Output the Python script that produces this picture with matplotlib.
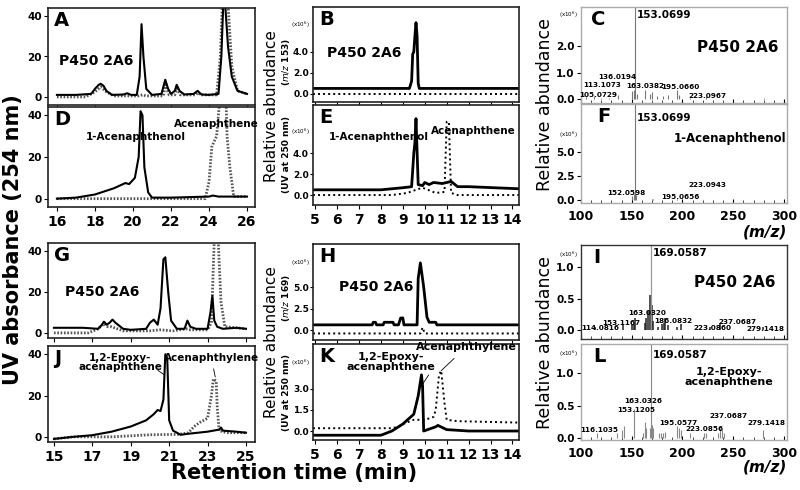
import matplotlib.pyplot as plt
import numpy as np

# ---- chromatograms, left column (UV 254 nm) ----
a_solid_x = [16.0, 17.0, 17.8, 18.0, 18.2, 18.3, 18.45, 18.6, 18.9, 19.5, 19.7, 19.9, 20.2, 20.35, 20.45, 20.55, 20.7,
             21.0, 21.5, 21.7, 21.85, 22.0, 22.2, 22.3, 22.45, 22.7, 23.2, 23.4, 23.6, 24.0, 24.5, 24.65, 24.75, 24.85,
             25.0, 25.2, 25.5, 26.0]
a_solid_y = [1, 1, 1.5, 4, 6, 6.5, 5.5, 3, 1, 1.2, 1.8, 1, 1, 10, 36, 20, 4, 1, 1.5, 8.5, 4, 1.5, 3, 6, 3, 1.2, 1.5, 3,
             1.2, 1, 1.5, 20, 46, 46, 25, 10, 3, 1.5]
a_dot_x = [16.0, 17.5, 18.0, 18.3, 18.6, 19.0, 20.3, 20.5, 20.7, 21.6, 21.7, 21.9, 22.2, 22.3, 22.5, 23.3, 23.4, 23.6,
           24.4, 24.6, 24.7, 24.8, 25.0, 25.2, 25.5, 26.0]
a_dot_y = [0, 0, 2.5, 5, 2.5, 0.5, 0.5, 1, 0.5, 0.5, 6, 1, 1, 4, 1, 1, 2, 1, 1, 20, 46, 46, 46, 15, 3, 1.5]

d_solid_x = [16.0, 17.0, 18.0, 19.0, 19.6, 19.8, 20.1, 20.3, 20.4, 20.5, 20.6, 20.8, 21.0, 22.0, 24.0, 24.2, 24.5, 26.0]
d_solid_y = [0, 0.5, 2, 5, 7.5, 7, 10, 20, 42, 40, 15, 3, 0.5, 0.5, 1, 1.5, 1, 1]
d_dot_x = [16.0, 23.8, 24.0, 24.15, 24.4, 24.55, 24.9, 24.95, 25.1, 25.3, 26.0]
d_dot_y = [0, 0, 8, 25, 30, 46, 46, 30, 15, 1, 1]

g_solid_x = [15.0, 16.5, 17.3, 17.5, 17.6, 17.75, 17.9, 18.05, 18.2, 18.6, 19.0, 19.8, 20.0, 20.2, 20.4, 20.55, 20.7,
             20.8, 20.95, 21.1, 21.4, 21.8, 21.95, 22.1, 22.4, 23.0, 23.15, 23.25, 23.35, 23.5, 23.8, 24.5, 25.0]
g_solid_y = [2.5, 2.5, 2, 4, 5.5, 4, 5, 6.5, 5, 2, 1.5, 2, 5, 6.5, 4, 12, 36, 37, 20, 6, 2, 2, 6, 3, 2, 2, 10, 18, 6, 3,
             2, 2.5, 2]
g_dot_x = [15.0, 16.8, 17.3, 17.6, 17.8, 18.0, 18.6, 20.0, 20.5, 21.2, 21.9, 22.1, 23.0, 23.2, 23.35, 23.55, 23.7, 23.9,
           24.5, 25.0]
g_dot_y = [0, 0, 2, 4.5, 3, 3, 1, 1, 1.5, 1, 2, 1.5, 1.5, 5, 46, 46, 15, 3, 2.5, 2]

j_solid_x = [15.0, 15.5, 16.0, 17.0, 18.0, 19.0, 19.8, 20.2, 20.4, 20.55, 20.7, 20.8, 20.9, 21.0, 21.2, 21.6, 22.0, 23.0,
             23.6, 23.7, 23.8, 24.5, 25.0]
j_solid_y = [-1, -0.5, 0, 0.8, 2.5, 5, 8, 11, 13, 12.5, 18, 40, 38, 8, 3, 1, 1.5, 2.5, 3.5, 4.5, 3, 2.5, 2]
j_dot_x = [15.0, 16.0, 18.0, 20.0, 21.5, 22.0, 22.3, 22.6, 23.0, 23.2, 23.3, 23.45, 23.5, 23.6, 24.0, 25.0]
j_dot_y = [-1, 0, 0, 1, 1.2, 2, 5, 7, 9, 20, 28, 27, 15, 3, 2, 2]

# ---- chromatograms, middle column (LC-MS) ----
b_solid_x = [4.9, 9.3, 9.4, 9.45, 9.5, 9.55, 9.6, 9.65, 9.7, 9.75, 14.3]
b_solid_y = [0.5, 0.5, 1.2, 3.8, 4.0, 5.5, 6.8, 5.5, 1.0, 0.5, 0.5]
b_dot_x = [4.9, 14.3]
b_dot_y = [0.0, 0.0]

e_solid_x = [4.9, 8.0, 9.0, 9.4, 9.5, 9.55, 9.6, 9.7, 9.9, 10.0, 10.2, 10.4, 10.8, 11.0, 11.2, 11.5, 12.0, 14.3]
e_solid_y = [0.5, 0.5, 0.7, 0.8, 4.0, 5.0, 7.3, 1.0, 0.9, 1.2, 1.0, 1.2, 1.1, 1.2, 1.3, 0.8, 0.8, 0.6]
e_dot_x = [4.9, 8.5, 9.2, 9.6, 9.9, 10.5, 10.9, 11.0, 11.1, 11.2, 11.5, 14.3]
e_dot_y = [0, 0, 0.2, 0.5, 0.7, 0.2, 0.3, 7.0, 7.0, 0.2, 0.0, 0.0]

h_solid_x = [4.9, 7.6, 7.65, 7.75, 7.8, 8.1, 8.15, 8.55, 8.6, 8.8, 8.9, 9.0, 9.05, 9.65, 9.7, 9.8, 9.95, 10.1, 10.2,
             10.5, 10.55, 14.3]
h_solid_y = [0.6, 0.6, 0.9, 0.9, 0.6, 0.6, 0.9, 0.9, 0.6, 0.6, 1.4, 1.4, 0.6, 0.6, 6.0, 7.8, 5.0, 1.5, 0.9, 0.9, 0.6,
             0.6]
h_dot_x = [4.9, 9.8, 9.9, 10.0, 14.3]
h_dot_y = [-0.4, -0.4, 0.3, -0.4, -0.4]

k_solid_x = [4.9, 8.0, 8.5, 9.0, 9.5, 9.7, 9.75, 9.85, 9.9, 9.95, 10.5, 10.6, 11.0, 12.0, 14.3]
k_solid_y = [-0.3, -0.3, 0.0, 0.5, 1.2, 2.5, 3.0, 4.0, 3.2, 0.0, 0.3, 0.4, 0.1, 0.0, 0.0]
k_dot_x = [4.9, 8.5, 8.8, 9.0, 9.5, 10.0, 10.4, 10.5, 10.65, 10.75, 10.9, 11.0, 11.5, 14.3]
k_dot_y = [0.2, 0.2, 0.3, 0.5, 0.8, 0.8, 1.0, 1.5, 4.0, 4.3, 2.0, 0.8, 0.7, 0.6]

# ---- mass spectra, right column ----
c_mz = [105, 113, 120, 128, 136, 150, 152, 153, 155, 163, 168, 170, 175, 181, 186, 195, 197, 207, 223, 280]
c_int = [0.08, 0.1, 0.05, 0.05, 0.15, 0.3, 0.35, 3.6, 0.2, 0.35, 0.2, 0.25, 0.1, 0.1, 0.15, 0.35, 0.15, 0.05, 0.1, 0.05]
c_labels = ['105.0729', '113.1073', '136.0194', '163.0382', '195.0660', '223.0967']
c_lab_x = [117, 121, 135.5, 163.5, 197.5, 225]
c_lab_y = [0.15, 0.55, 0.82, 0.5, 0.45, 0.1]

f_mz = [150, 152, 153, 154, 170, 171, 181, 195, 199]
f_int = [0.4, 0.6, 10.5, 0.5, 0.15, 0.1, 0.05, 0.1, 0.05]
f_labels = ['152.0598', '195.0656', '223.0943']
f_lab_x = [145, 198, 225]
f_lab_y = [0.7, 0.35, 1.6]

i_mz = [114, 141, 150, 152, 153, 163, 164, 166, 168, 170, 171, 176, 180, 182, 183, 186, 195, 199, 227, 237, 279]
i_int = [0.05, 0.08, 0.1, 0.1, 0.2, 0.12, 0.2, 0.3, 0.55, 0.4, 0.15, 0.05, 0.1, 0.12, 0.2, 0.08, 0.05, 0.1, 0.05, 0.12,
         0.05]
i_base_mz = 169
i_labels = ['114.0816', '153.1167', '163.0320', '186.0832', '223.0860', '237.0687', '279.1418']
i_lab_x = [118.5, 140, 165, 191, 230, 254, 282]
i_lab_y = [0.03, 0.11, 0.27, 0.14, 0.04, 0.13, 0.02]

l_mz = [116, 135, 140, 142, 152, 161, 163, 164, 168, 169, 170, 171, 177, 179, 181, 183, 195, 197, 199, 207, 221, 223,
        235, 237, 239, 241, 279]
l_int = [0.08, 0.08, 0.12, 0.18, 0.45, 0.08, 0.25, 0.15, 0.15, 1.6, 0.2, 0.15, 0.08, 0.08, 0.08, 0.1, 0.18, 0.15, 0.12,
         0.08, 0.08, 0.08, 0.08, 0.15, 0.12, 0.08, 0.12]
l_labels = ['116.1035', '153.1205', '163.0326', '195.0577', '223.0856', '237.0687', '279.1418']
l_lab_x = [118, 154, 161, 196, 222, 245, 283]
l_lab_y = [0.12, 0.44, 0.57, 0.23, 0.14, 0.34, 0.23]


fig = plt.figure(figsize=(8, 4.9), dpi=100)
W, H = 800.0, 490.0


def add_ax(x0, x1, y0, y1):
    return fig.add_axes([x0 / W, 1 - y1 / H, (x1 - x0) / W, (y1 - y0) / H])


def style(ax, frame='#222222', lw=1.2, size=7.5):
    for s in ax.spines.values():
        s.set_color(frame)
        s.set_linewidth(lw)
    ax.tick_params(direction='out', length=3, width=0.8, labelsize=size, pad=1.5)
    for t in ax.get_xticklabels() + ax.get_yticklabels():
        t.set_fontweight('bold')


def letter(ax, s, x=0.03, y=0.97):
    ax.text(x, y, s, transform=ax.transAxes, fontsize=14, fontweight='bold', va='top', ha='left')


def scale_note(ax, y):
    ax.text(-0.015, y, '(x10$^6$)', transform=ax.transAxes, fontsize=4, ha='right', va='center')


solid_kw = dict(color='black', lw=1.5)
dot_kw = dict(color='#555555', lw=2.0, linestyle=(0, (0.6, 0.6)))

# left column
ax_a = add_ax(48, 255, 8, 105)
ax_d = add_ax(48, 255, 107, 207)
ax_g = add_ax(48, 255, 243, 338)
ax_j = add_ax(48, 255, 346, 442)

for ax, sx, sy, dx, dy in [(ax_a, a_solid_x, a_solid_y, a_dot_x, a_dot_y),
                           (ax_d, d_solid_x, d_solid_y, d_dot_x, d_dot_y)]:
    ax.plot(dx, dy, **dot_kw)
    ax.plot(sx, sy, **solid_kw)
    ax.set_xlim(15.53, 26.42)
    ax.set_ylim(-4, 44)
    ax.set_xticks(np.arange(16, 27, 2))
    ax.set_yticks([0, 20, 40])

for ax, sx, sy, dx, dy in [(ax_g, g_solid_x, g_solid_y, g_dot_x, g_dot_y),
                           (ax_j, j_solid_x, j_solid_y, j_dot_x, j_dot_y)]:
    ax.plot(dx, dy, **dot_kw)
    ax.plot(sx, sy, **solid_kw)
    ax.set_xlim(14.69, 25.47)
    ax.set_ylim(-2.5, 44)
    ax.set_xticks(np.arange(15, 26, 2))
    ax.set_yticks([0, 20, 40])

for ax in [ax_a, ax_d, ax_g, ax_j]:
    style(ax, size=7.5)
ax_a.set_xticklabels([])
ax_g.set_xticklabels([])
for ax in [ax_d, ax_j]:
    ax.tick_params(axis='x', labelsize=10, pad=3)

letter(ax_a, 'A')
letter(ax_d, 'D')
letter(ax_g, 'G')
letter(ax_j, 'J')
ax_a.text(18.05, 18, 'P450 2A6', fontsize=10, fontweight='bold', ha='center', va='center')
ax_g.text(17.5, 20, 'P450 2A6', fontsize=10, fontweight='bold', ha='center', va='center')
ax_d.text(20.15, 29.5, '1-Acenaphthenol', fontsize=7.5, fontweight='bold', ha='center', va='center')
ax_d.text(24.4, 36, 'Acenaphthene', fontsize=7.5, fontweight='bold', ha='center', va='center')
ax_j.annotate('1,2-Epoxy-\nacenaphthene', xy=(20.75, 30), xytext=(18.45, 36), fontsize=7.5, fontweight='bold',
              ha='center', va='center', linespacing=0.95,
              arrowprops=dict(arrowstyle='-', color='black', lw=0.6, shrinkA=0, shrinkB=0,
                              relpos=(0.95, 0.1)))
ax_j.annotate('Acenaphthylene', xy=(23.4, 29), xytext=(23.2, 38), fontsize=7.5, fontweight='bold',
              ha='center', va='center',
              arrowprops=dict(arrowstyle='-', color='black', lw=0.6, shrinkA=2, shrinkB=0))

# middle column
ax_b = add_ax(313, 519, 7, 102)
ax_e = add_ax(313, 519, 105, 205)
ax_h = add_ax(313, 519, 244, 340)
ax_k = add_ax(313, 519, 344, 440)

mid_solid = dict(color='black', lw=2.0)
mid_dot = dict(color='black', lw=1.4, linestyle=(0, (1, 1.6)))
for ax, sx, sy, dx, dy in [(ax_b, b_solid_x, b_solid_y, b_dot_x, b_dot_y),
                           (ax_e, e_solid_x, e_solid_y, e_dot_x, e_dot_y),
                           (ax_h, h_solid_x, h_solid_y, h_dot_x, h_dot_y),
                           (ax_k, k_solid_x, k_solid_y, k_dot_x, k_dot_y)]:
    ax.plot(dx, dy, **mid_dot)
    ax.plot(sx, sy, **mid_solid)
    ax.set_xlim(4.9, 14.3)
    ax.set_xticks(np.arange(5, 15, 1))

ax_b.set_ylim(-0.8, 8.3)
ax_b.set_yticks([0, 2, 4])
ax_b.set_yticklabels(['0.0', '2.0', '4.0'])
ax_e.set_ylim(-0.95, 8.6)
ax_e.set_yticks([0, 2, 4])
ax_e.set_yticklabels(['0.0', '2.0', '4.0'])
ax_h.set_ylim(-1.16, 10.0)
ax_h.set_yticks([0, 2.5, 5.0])
ax_h.set_yticklabels(['0.0', '2.5', '5.0'])
ax_k.set_ylim(-0.64, 6.2)
ax_k.set_yticks([0, 1.5, 3.0])
ax_k.set_yticklabels(['0.0', '1.5', '3.0'])

for ax in [ax_b, ax_e, ax_h, ax_k]:
    style(ax, size=6.5)
    ax.tick_params(axis='y', length=2, pad=1)
ax_b.set_xticklabels([])
ax_h.set_xticklabels([])
for ax in [ax_e, ax_k]:
    ax.tick_params(axis='x', labelsize=10, pad=3)

letter(ax_b, 'B')
letter(ax_e, 'E')
letter(ax_h, 'H')
letter(ax_k, 'K')
scale_note(ax_b, 0.81)
scale_note(ax_e, 0.73)
scale_note(ax_h, 0.80)
scale_note(ax_k, 0.80)
ax_b.text(7.25, 3.9, 'P450 2A6', fontsize=10, fontweight='bold', ha='center', va='center')
ax_h.text(7.8, 5.0, 'P450 2A6', fontsize=10, fontweight='bold', ha='center', va='center')
ax_e.text(7.9, 5.5, '1-Acenaphthenol', fontsize=7.5, fontweight='bold', ha='center', va='center')
ax_e.text(12.2, 6.1, 'Acenaphthene', fontsize=7.5, fontweight='bold', ha='center', va='center')
ax_k.annotate('1,2-Epoxy-\nacenaphthene', xy=(9.8, 3.1), xytext=(8.45, 4.9), fontsize=8, fontweight='bold',
              ha='center', va='center', linespacing=0.95,
              arrowprops=dict(arrowstyle='-', color='black', lw=0.6, shrinkA=0, shrinkB=0,
                              relpos=(0.97, 0.15)))
ax_k.annotate('Acenaphthylene', xy=(10.75, 4.3), xytext=(11.9, 6.0), fontsize=8, fontweight='bold',
              ha='center', va='center',
              arrowprops=dict(arrowstyle='-', color='black', lw=0.6, shrinkA=4, shrinkB=0))

# right column
ax_c = add_ax(581, 787, 7, 103)
ax_f = add_ax(581, 787, 104, 203)
ax_i = add_ax(581, 787, 245, 339)
ax_l = add_ax(581, 787, 344, 440)

ax_c.vlines(c_mz, 0, c_int, color='#777777', lw=0.8)
ax_f.vlines(f_mz, 0, f_int, color='#777777', lw=0.8)
ax_i.vlines(i_mz, 0, i_int, color='#222222', lw=1.1)
ax_i.vlines([i_base_mz], 0, [1.5], color='#999999', lw=0.9)
ax_l.vlines(l_mz, 0, l_int, color='#888888', lw=0.8)

ax_c.set_ylim(-0.15, 3.5)
ax_c.set_yticks([0, 1, 2])
ax_c.set_yticklabels(['0.0', '1.0', '2.0'])
ax_f.set_ylim(-0.3, 10.0)
ax_f.set_yticks([0, 2.5, 5.0])
ax_f.set_yticklabels(['0.0', '2.5', '5.0'])
ax_i.set_ylim(-0.14, 1.35)
ax_i.set_yticks([0, 0.5, 1.0])
ax_i.set_yticklabels(['0.0', '0.5', '1.0'])
ax_l.set_ylim(-0.03, 1.45)
ax_l.set_yticks([0, 0.5, 1.0])
ax_l.set_yticklabels(['0.0', '0.5', '1.0'])

for ax, fc in [(ax_c, '#aaaaaa'), (ax_f, '#aaaaaa'), (ax_i, '#333333'), (ax_l, '#aaaaaa')]:
    ax.set_xlim(100, 303)
    ax.set_xticks(np.arange(100, 301, 50))
    ax.set_xticks(np.arange(100, 301, 10), minor=True)
    style(ax, frame=fc, lw=1.0, size=7.5)
    ax.tick_params(axis='x', which='minor', direction='in', length=2, width=0.5)
    ax.tick_params(axis='x', which='major', direction='in', length=3)
ax_c.set_xticklabels([])
ax_i.set_xticklabels([])
for ax in [ax_f, ax_l]:
    ax.tick_params(axis='x', labelsize=9, pad=5)

letter(ax_c, 'C', x=0.05)
letter(ax_f, 'F', x=0.08)
letter(ax_i, 'I', x=0.06)
letter(ax_l, 'L', x=0.06)
scale_note(ax_c, 0.92)
scale_note(ax_f, 0.69)
scale_note(ax_i, 0.89)
scale_note(ax_l, 0.90)

ax_c.text(155, 3.2, '153.0699', fontsize=7.5, fontweight='bold', va='center', ha='left')
ax_f.text(155, 8.5, '153.0699', fontsize=7.5, fontweight='bold', va='center', ha='left')
ax_i.text(171, 1.22, '169.0587', fontsize=7.5, fontweight='bold', va='center', ha='left')
ax_l.text(171, 1.28, '169.0587', fontsize=7.5, fontweight='bold', va='center', ha='left')
ax_c.text(254, 1.95, 'P450 2A6', fontsize=11, fontweight='bold', ha='center', va='center')
ax_i.text(252, 0.76, 'P450 2A6', fontsize=11, fontweight='bold', ha='center', va='center')
ax_f.text(247, 6.4, '1-Acenaphthenol', fontsize=8.5, fontweight='bold', ha='center', va='center')
ax_l.text(246, 0.94, '1,2-Epoxy-\nacenaphthene', fontsize=8, fontweight='bold', ha='center', va='center',
          linespacing=0.95)

for ax, labs, lx, ly in [(ax_c, c_labels, c_lab_x, c_lab_y), (ax_f, f_labels, f_lab_x, f_lab_y),
                         (ax_i, i_labels, i_lab_x, i_lab_y), (ax_l, l_labels, l_lab_x, l_lab_y)]:
    for s, x, y in zip(labs, lx, ly):
        ax.text(x, y, s, fontsize=5.2, fontweight='bold', ha='center', va='center')

# axis titles
fig.text(0.016, 0.51, 'UV absorbance (254 nm)', rotation=90, fontsize=15, fontweight='bold', ha='center',
         va='center')
fig.text(0.367, 0.035, 'Retention time (min)', fontsize=15, fontweight='bold', ha='center', va='center')
fig.text(0.339, 0.784, 'Relative abundance', rotation=90, fontsize=11, ha='center', va='center')
fig.text(0.339, 0.302, 'Relative abundance', rotation=90, fontsize=11, ha='center', va='center')
fig.text(0.358, 0.874, '($\\it{m/z}$ 153)', rotation=90, fontsize=6.5, fontweight='bold', ha='center', va='center')
fig.text(0.358, 0.684, '(UV at 250 nm)', rotation=90, fontsize=6.5, fontweight='bold', ha='center', va='center')
fig.text(0.358, 0.392, '($\\it{m/z}$ 169)', rotation=90, fontsize=6.5, fontweight='bold', ha='center', va='center')
fig.text(0.358, 0.200, '(UV at 250 nm)', rotation=90, fontsize=6.5, fontweight='bold', ha='center', va='center')
fig.text(0.681, 0.786, 'Relative abundance', rotation=90, fontsize=12.5, ha='center', va='center')
fig.text(0.681, 0.302, 'Relative abundance', rotation=90, fontsize=12.5, ha='center', va='center')
fig.text(0.984, 0.527, '(m/z)', fontsize=11, fontweight='bold', style='italic', ha='right', va='center')
fig.text(0.984, 0.046, '(m/z)', fontsize=11, fontweight='bold', style='italic', ha='right', va='center')

fig.savefig('out.png', dpi=100)
